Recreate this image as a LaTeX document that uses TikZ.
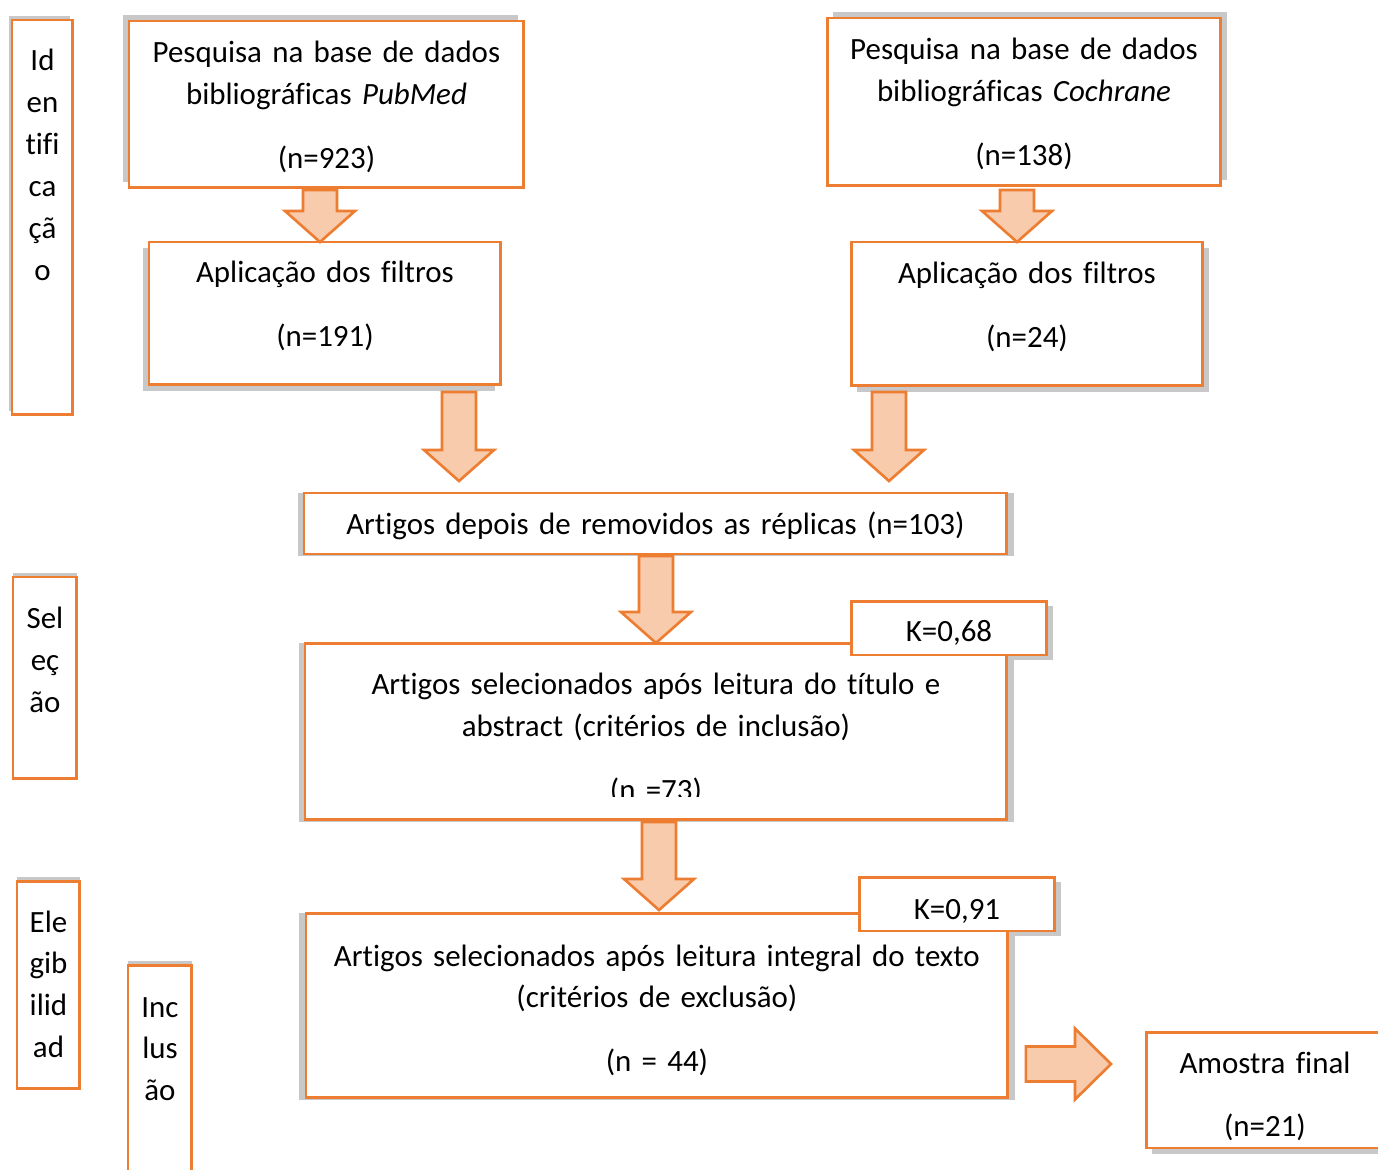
\documentclass[tikz,border=0pt]{standalone}
\usepackage{fontspec}
\setmainfont{Carlito}[Ligatures=NoCommon]
\usetikzlibrary{calc, backgrounds}
\definecolor{Accent}{RGB}{237, 125, 49}
\definecolor{Peach}{RGB}{248, 203, 173}
\definecolor{ShadeGray}{RGB}{200, 200, 200}

\newcommand{\blockdown}[5]{%
  \draw[blockarrow] let \p1=($(#2.south)+(0,#3)$), \p2=($(#4.north)+(0,-#5)$), \p3=(#1,0) in
    (\x3-0.34cm,\y1) -- (\x3+0.34cm,\y1) -- (\x3+0.34cm,\y2+0.62cm) -- (\x3+0.7cm,\y2+0.62cm)
    -- (\x3,\y2) -- (\x3-0.7cm,\y2+0.62cm) -- (\x3-0.34cm,\y2+0.62cm) -- cycle;}
\newcommand{\blockright}[5]{%
  \draw[blockarrow] let \p1=($(#2.east)+(#3,0)$), \p2=($(#4.west)+(-#5,0)$), \p3=(0,#1) in
    (\x1,\y3+0.35cm) -- (\x2-0.72cm,\y3+0.35cm) -- (\x2-0.72cm,\y3+0.71cm) -- (\x2,\y3)
    -- (\x2-0.72cm,\y3-0.71cm) -- (\x2-0.72cm,\y3-0.35cm) -- (\x1,\y3-0.35cm) -- cycle;}
\newcommand{\shadowof}[5]{%
  \fill[ShadeGray] ($(#1.north west)+(#2,#3)$) rectangle ($(#1.south east)+(#4,#5)$);}

\begin{document}
\begin{tikzpicture}[
        x=0.02cm, y=-0.02cm,
        block/.style={draw=Accent, line width=1.7pt, fill=white, align=center, inner sep=0pt, outer sep=0pt,
            anchor=north west, font=\fontsize{17.6pt}{23.9pt}\selectfont},
        boxdim/.style n args={3}{text width=#1, text height=#2, text depth=#3},
        blockarrow/.style={draw=Accent, fill=Peach, line width=1.5pt, line join=miter}
    ]
        \path[use as bounding box, clip] (0,0) rectangle (1378,1169);

        \node[block, boxdim={1.22cm}{1.02cm}{6.88cm}] (ident) at (12,20) {Id\\en\\tifi\\ca\\çã\\o};
        \node[block, boxdim={1.28cm}{1.04cm}{3.0cm}] (selec) at (13,577) {Sel\\eç\\ão};
        \node[block, boxdim={1.26cm}{1.02cm}{3.14cm}] (eleg) at (17,881) {Ele\\gib\\ilid\\ad};
        \node[block, boxdim={1.28cm}{1.04cm}{3.76cm}] (incl) at (128,965) {Inc\\lus\\ão};

        \node[block, boxdim={7.9cm}{0.84cm}{2.5cm}] (pubmed) at (129,21)
            {Pesquisa na base de dados\\bibliográficas \textit{PubMed}\\[12pt](n=923)};
        \node[block, boxdim={7.88cm}{0.84cm}{2.52cm}] (cochrane) at (827,18)
            {Pesquisa na base de dados\\bibliográficas \textit{Cochrane}\\[12pt](n=138)};
        \node[block, boxdim={7.04cm}{0.82cm}{2.04cm}] (filtl) at (149,242) {Aplicação dos filtros\\[12pt](n=191)};
        \node[block, boxdim={7.04cm}{0.84cm}{2.04cm}] (filtr) at (851,242) {Aplicação dos filtros\\[12pt](n=24)};
        \node[block, boxdim={14.06cm}{0.84cm}{0.38cm}] (rep) at (304,493)
            {Artigos depois de removidos as réplicas (n=103)};
        \node[block, boxdim={14.04cm}{1.04cm}{2.5cm}] (titulo) at (305,643)
            {Artigos selecionados após leitura do título e\\abstract (critérios de inclusão)\\[12pt](n =73)};
        \fill[white] (312,797) rectangle (1000,816);
        \node[block, boxdim={3.92cm}{0.82cm}{0.26cm}] (k68) at (851,601) {K=0,68};
        \node[block, boxdim={14.04cm}{1.06cm}{2.64cm}] (integral) at (306,913)
            {Artigos selecionados após leitura integral do texto\\(critérios de exclusão)\\[12pt](n = 44)};
        \node[block, boxdim={3.92cm}{0.84cm}{0.24cm}] (k91) at (859,877) {K=0,91};
        \node[block, boxdim={4.76cm}{0.82cm}{1.5cm}] (amostra) at (1146,1032) {Amostra final\\[12pt](n=21)};

        \blockdown{320}{pubmed}{2}{filtl}{0}
        \blockdown{1017}{cochrane}{4}{filtr}{0}
        \blockdown{459}{filtl}{7}{rep}{12}
        \blockdown{889}{filtr}{6}{rep}{12}
        \blockdown{656}{rep}{2}{titulo}{0}
        \blockdown{659}{titulo}{2}{integral}{3}
        \blockright{1064}{integral}{18}{amostra}{35}

        \begin{pgfonlayer}{background}
            \shadowof{ident}{-3}{-4}{-3}{-4}
            \shadowof{selec}{0}{-4}{0}{-4}
            \shadowof{eleg}{0}{-4}{0}{-4}
            \shadowof{incl}{0}{-4}{0}{-4}
            \shadowof{pubmed}{-6}{-6}{-6}{-6}
            \shadowof{cochrane}{6}{-6}{6}{-6}
            \shadowof{filtl}{-6}{6}{-6}{6}
            \shadowof{filtr}{6}{6}{6}{6}
            \shadowof{rep}{-6}{0}{7}{2}
            \shadowof{titulo}{-6}{0}{7}{2}
            \shadowof{integral}{-7}{0}{7}{2}
            \shadowof{k68}{6}{5}{6}{5}
            \shadowof{k91}{6}{5}{6}{5}
            \shadowof{amostra}{6}{6}{6}{6}
        \end{pgfonlayer}
    \end{tikzpicture}
\end{document}
